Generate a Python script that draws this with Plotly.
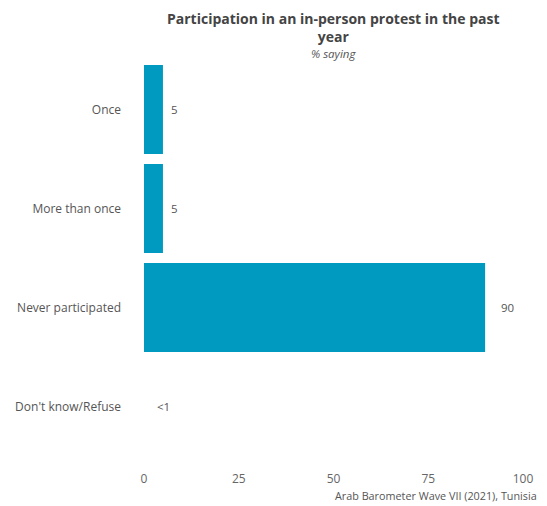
import plotly.graph_objects as go

categories = ["Once", "More than once", "Never participated", "Don't know/Refuse"]
values = [5, 5, 90, 0]
labels = ["5", "5", "90", "<1"]
x_ticks = [0, 25, 50, 75, 100]

font_family = "Open Sans, Lato, sans-serif"
bar_color = "#0099c0"
label_shift = [6, 6, 14, 11]

fig = go.Figure()
fig.add_trace(go.Bar(
    y=categories, x=values, orientation="h",
    marker=dict(color=bar_color, line=dict(width=0)),
    hoverinfo="skip",
))

for cat, v, lab, sh in zip(categories, values, labels, label_shift):
    fig.add_annotation(x=v, y=cat, text=lab, showarrow=False, xanchor="left",
                       xshift=sh, font=dict(family=font_family, size=11.5, color="#555555"))

fig.add_annotation(x=1, y=0, xref="paper", yref="paper", xanchor="right", yanchor="middle",
                   text="Arab Barometer Wave VII (2021), Tunisia", showarrow=False,
                   xshift=15, yshift=-39, borderpad=0,
                   font=dict(family=font_family, size=10.8, color="#555555"))

fig.add_annotation(x=0.5, y=1, xref="paper", yref="paper", xanchor="center", yanchor="bottom",
                   text="<b>Participation in an in-person protest in the past<br>year</b>",
                   showarrow=False, yshift=12.5, borderpad=0,
                   font=dict(family=font_family, size=14, color="#444444"))
fig.add_annotation(x=0.5, y=1, xref="paper", yref="paper", xanchor="center", yanchor="middle",
                   text="<i>% saying</i>", showarrow=False, yshift=7, borderpad=0,
                   font=dict(family=font_family, size=11.5, color="#555555"))

fig.update_layout(
    width=539, height=498,
    margin=dict(l=136, r=24, t=52, b=50),
    paper_bgcolor="white", plot_bgcolor="white",
    bargap=0.1,
    showlegend=False,
    font=dict(family=font_family, color="#555555"),
)
fig.update_xaxes(range=[0, 100], tickvals=x_ticks, showgrid=False, zeroline=False,
                 showline=False, ticks="", tickfont=dict(size=12, color="#666666"),
                 ticklabelstandoff=14, automargin=False, fixedrange=True)
fig.update_yaxes(categoryorder="array", categoryarray=categories[::-1], showgrid=False,
                 zeroline=False, showline=False, ticks="", ticklabelstandoff=22,
                 tickfont=dict(size=12, color="#555555"), automargin=False)

fig.write_html("out.html")
